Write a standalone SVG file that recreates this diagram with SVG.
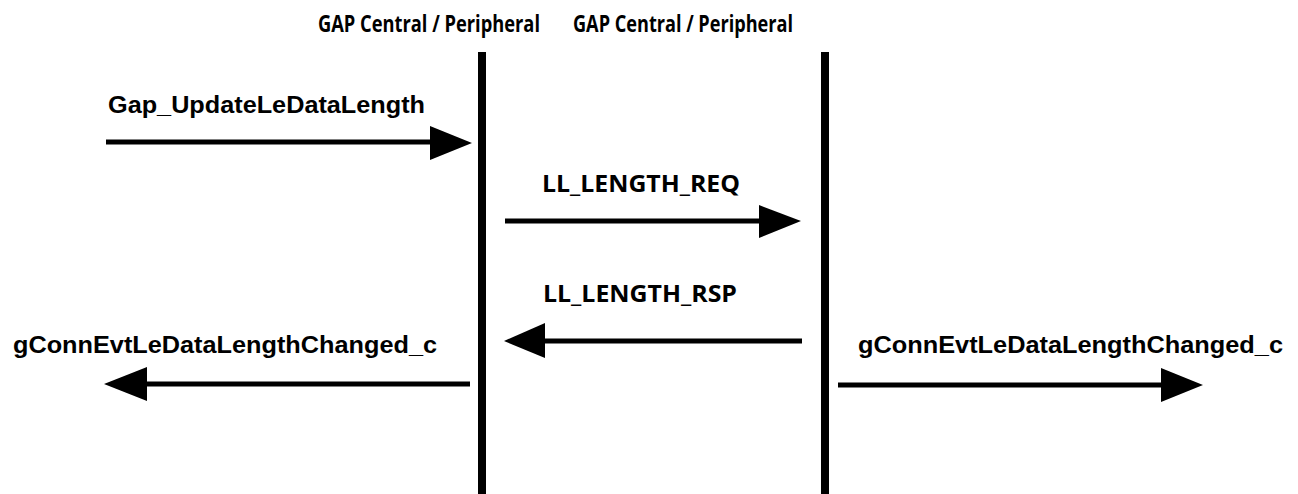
<svg xmlns="http://www.w3.org/2000/svg" width="1298" height="494" viewBox="0 0 1298 494">
<style>
.hdr{font-family:"Open Sans","Liberation Sans",sans-serif;font-weight:bold;font-size:18px;fill:#000}
.lbl{font-family:"Liberation Sans",Arial,sans-serif;font-weight:bold;font-size:23px;fill:#000}
.msg{font-family:"Open Sans","Liberation Sans",sans-serif;font-weight:bold;font-size:24px;fill:#000}
.life{stroke:#000;stroke-width:8}
.conn{stroke:#000;stroke-width:5;fill:none}
.head{fill:#000}
</style>
<rect width="1298" height="494" fill="#fff"/>
<g id="node-left">
<text class="hdr" transform="translate(318,32) scale(1,1.3)" x="0" y="0" textLength="222" lengthAdjust="spacingAndGlyphs">GAP Central / Peripheral</text>
<line class="life" x1="482" y1="52" x2="482" y2="494"/>
</g>
<g id="node-right">
<text class="hdr" transform="translate(573,32) scale(1,1.3)" x="0" y="0" textLength="220" lengthAdjust="spacingAndGlyphs">GAP Central / Peripheral</text>
<line class="life" x1="825" y1="52" x2="825" y2="494"/>
</g>
<g id="connectors">
<g id="c1">
<line class="conn" x1="106" y1="142" x2="435" y2="142"/>
<polygon class="head" points="430,126 472,143 430,160"/>
<text class="lbl" x="108" y="113" textLength="317" lengthAdjust="spacingAndGlyphs">Gap_UpdateLeDataLength</text>
</g>
<g id="c2">
<line class="conn" x1="505" y1="221" x2="765" y2="221"/>
<polygon class="head" points="759,205 801,221 759,238"/>
<text class="msg" x="542" y="192" textLength="198" lengthAdjust="spacingAndGlyphs">LL_LENGTH_REQ</text>
</g>
<g id="c3">
<line class="conn" x1="802" y1="341" x2="540" y2="341"/>
<polygon class="head" points="545,323 504,341 545,358"/>
<text class="msg" x="543" y="302" textLength="194" lengthAdjust="spacingAndGlyphs">LL_LENGTH_RSP</text>
</g>
<g id="c4">
<line class="conn" x1="470" y1="384" x2="142" y2="384"/>
<polygon class="head" points="147,367 104,384 147,401"/>
<text class="lbl" x="13" y="353" textLength="424" lengthAdjust="spacingAndGlyphs">gConnEvtLeDataLengthChanged_c</text>
</g>
<g id="c5">
<line class="conn" x1="838" y1="385" x2="1166" y2="385"/>
<polygon class="head" points="1161,368 1203,385 1161,402"/>
<text class="lbl" x="858" y="353" textLength="425" lengthAdjust="spacingAndGlyphs">gConnEvtLeDataLengthChanged_c</text>
</g>
</g>
</svg>
